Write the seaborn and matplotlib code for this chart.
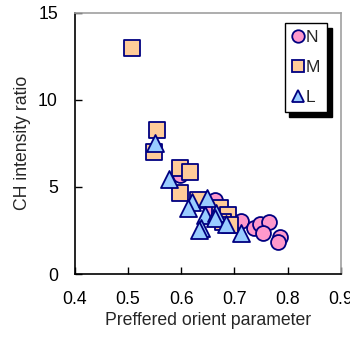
import matplotlib
matplotlib.use("Agg")
import matplotlib.pyplot as plt
import seaborn as sns
import pandas as pd
from matplotlib.lines import Line2D

# Data
N_x = [0.598, 0.663, 0.654, 0.713, 0.736, 0.748, 0.765, 0.754, 0.785, 0.782]
N_y = [5.7, 4.25, 3.58, 3.06, 2.63, 2.87, 3.0, 2.34, 2.14, 1.86]
M_x = [0.507, 0.554, 0.549, 0.598, 0.617, 0.598, 0.632, 0.673, 0.688, 0.679, 0.691]
M_y = [12.97, 8.28, 7.03, 6.07, 5.88, 4.64, 4.25, 3.78, 3.39, 3.0, 2.8]
L_x = [0.551, 0.578, 0.621, 0.649, 0.613, 0.645, 0.666, 0.663, 0.685, 0.638, 0.634, 0.713]
L_y = [7.5, 5.44, 4.15, 4.35, 3.78, 3.39, 3.49, 3.2, 2.9, 2.65, 2.53, 2.34]
groups = ["N", "M", "L"]
x_ticks = [0.4, 0.5, 0.6, 0.7, 0.8, 0.9]
y_ticks = [0, 5, 10, 15]

sns.set_style("white")
plt.rcParams['font.family'] = ['Liberation Sans', 'DejaVu Sans']

fig = plt.figure(figsize=(3.5, 3.38), dpi=100)
ax = fig.add_axes([0.213, 0.189, 0.761, 0.774])

edge = "#000080"
colors = {"N": "#FF99CC", "M": "#FFCC99", "L": "#99CCFF"}
markers = {"N": "o", "M": "s", "L": "^"}
sizes = {"N": 115, "M": 120, "L": 150}
data = {"N": (N_x, N_y), "M": (M_x, M_y), "L": (L_x, L_y)}

for g in groups:
    df = pd.DataFrame({"x": data[g][0], "y": data[g][1]})
    sns.scatterplot(data=df, x="x", y="y", ax=ax, marker=markers[g], s=sizes[g],
                    color=colors[g], edgecolor=edge, linewidth=1.3, legend=False, zorder=3)

ax.set_xlim(0.4, 0.9)
ax.set_ylim(0, 15)
ax.set_xticks(x_ticks)
ax.set_xticklabels([f"{v:.1f}" for v in x_ticks])
ax.set_yticks(y_ticks)
ax.set_yticklabels([str(v) for v in y_ticks])
ax.tick_params(direction="in", length=5, width=1, colors="black", labelsize=12.7, pad=12,
               bottom=True, left=True, top=False, right=False)
ax.set_xlabel("Preffered orient parameter", fontsize=12.7, labelpad=3)
ax.set_ylabel("CH intensity ratio", fontsize=12.7, labelpad=5)

for s in ["left", "bottom"]:
    ax.spines[s].set_color("black")
    ax.spines[s].set_linewidth(1.2)
for s in ["top", "right"]:
    ax.spines[s].set_color("#A0A0A0")
    ax.spines[s].set_linewidth(1.2)

handles = [Line2D([], [], linestyle="none", marker=markers[g], markersize=9,
                  markerfacecolor=colors[g], markeredgecolor=edge, markeredgewidth=1.3)
           for g in groups]
leg = ax.legend(handles, groups, loc="upper right", bbox_to_anchor=(0.947, 0.959),
                fontsize=12.5, frameon=True, fancybox=False, borderaxespad=0,
                shadow={"ox": 3.5, "oy": -3.5, "color": "black", "alpha": 1},
                handlelength=0.7, handletextpad=0.1, labelspacing=0.85,
                borderpad=0.4, framealpha=1)
leg.get_frame().set_edgecolor("black")
leg.get_frame().set_linewidth(1.0)

fig.savefig("out.png", dpi=100)
